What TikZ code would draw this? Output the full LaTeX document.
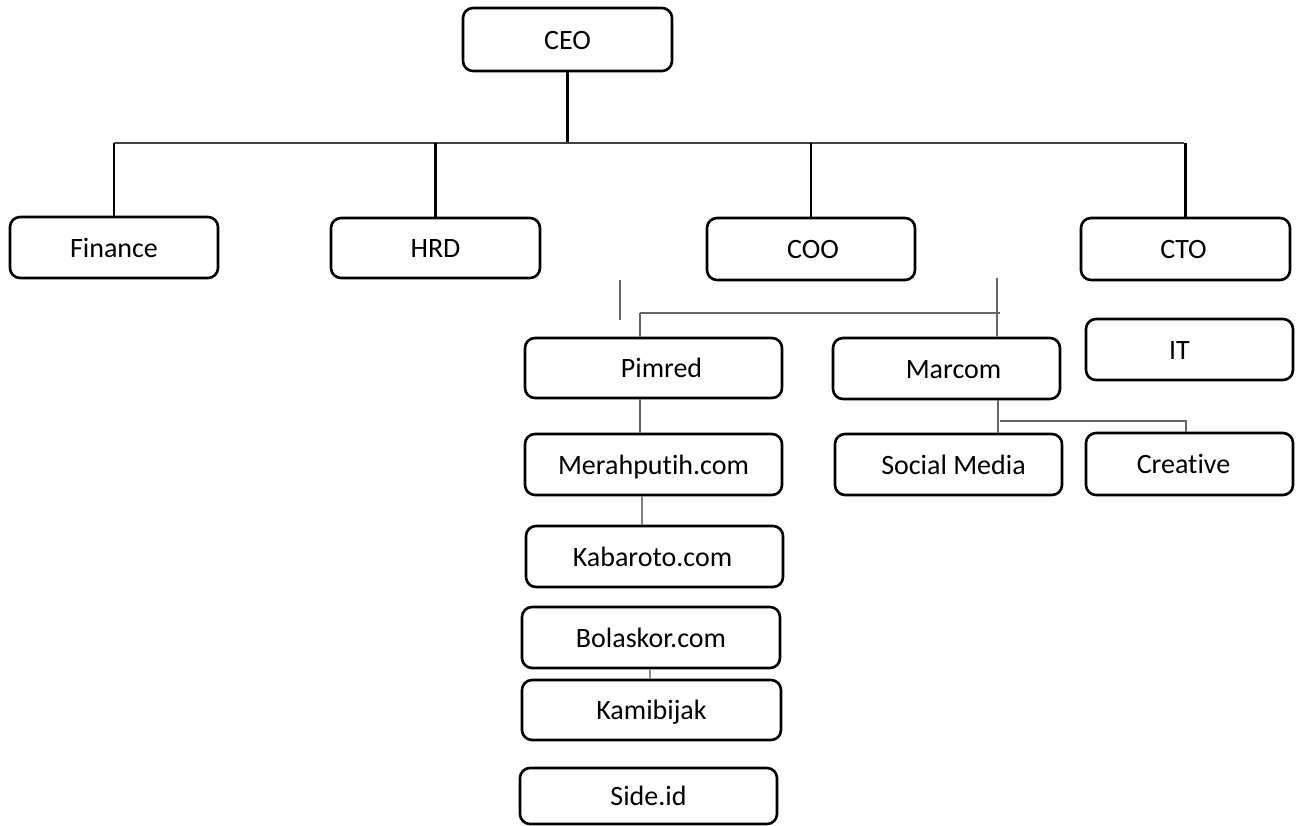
\documentclass[tikz,border=0pt]{standalone}
\usepackage{fontspec}
\setmainfont{Carlito}[Ligatures=NoCommon]
\begin{document}
\begin{tikzpicture}[x=1pt,y=-1pt,
  box/.style={draw=black, line width=2.6pt, rounded corners=10pt, inner sep=0pt,
    font=\fontsize{28}{30}\selectfont, text height=23pt, text depth=4pt},
  thick stem/.style={draw=black, line width=2.8pt},
  topbar/.style={draw=black!75, line width=1.5pt},
  thin link/.style={draw=black!60, line width=1.3pt},
  grey link/.style={draw=black!50, line width=2.6pt},
  grey mid/.style={draw=black!45, line width=2pt}]
\useasboundingbox (0,0) rectangle (1303,825);
\fill[white] (0,0) rectangle (1303,825);
% boxes
\node[box, minimum width=209pt, minimum height=63pt] (ceo) at (567.5,39.5) {CEO};
\node[box, minimum width=208pt, minimum height=61pt] (fin) at (114,247.5) {Finance};
\node[box, minimum width=209pt, minimum height=60pt] (hrd) at (435.5,248) {HRD};
\node[box, minimum width=208pt, minimum height=62pt] (coo) at (811,249) {\hspace*{4pt}COO};
\node[box, minimum width=209pt, minimum height=62pt] (cto) at (1185.5,249) {CTO\hspace*{4pt}};
\node[box, minimum width=257pt, minimum height=60pt] (pim) at (653.5,368) {\hspace*{16pt}Pimred};
\node[box, minimum width=227pt, minimum height=61pt] (mar) at (946.5,368.5) {\hspace*{14pt}Marcom};
\node[box, minimum width=207pt, minimum height=61pt] (it) at (1189.5,349.5) {IT\hspace*{20pt}};
\node[box, minimum width=257pt, minimum height=61pt] (mer) at (653.5,464.5) {Merahputih.com};
\node[box, minimum width=227pt, minimum height=61pt] (soc) at (948.5,464.5) {\hspace*{10pt}Social Media};
\node[box, minimum width=207pt, minimum height=62pt] (cre) at (1189.5,464) {Creative\hspace*{12pt}};
\node[box, minimum width=257pt, minimum height=61pt] (kab) at (654.5,556.5) {Kabaroto.com\hspace*{4pt}};
\node[box, minimum width=258pt, minimum height=61pt] (bol) at (651,637.5) {Bolaskor.com};
\node[box, minimum width=259pt, minimum height=60pt] (kam) at (651.5,710) {Kamibijak};
\node[box, minimum width=257pt, minimum height=56pt] (sid) at (648.5,796) {Side.id};
% top level connectors
\coordinate (barL) at (114,143);
\coordinate (barR) at (1184,143);
\coordinate (ceoJ) at (ceo.south |- barL);
\draw[thick stem] (ceo.south) -- (ceoJ);
\draw[topbar] (barL) -- (barR);
\draw[thick stem] (fin.north |- barL) -- (fin.north);
\draw[thick stem] (hrd.north |- barL) -- (hrd.north);
\draw[thick stem] (coo.north |- barL) -- (coo.north);
\draw[thick stem] (cto.north |- barL) -- (cto.north);
% COO sub-level
\coordinate (shortA) at (620,280);
\coordinate (shortB) at (620,320);
\draw[thin link] (shortA) -- (shortB);
\coordinate (pimJ) at (640,313);
\coordinate (marJ) at (997,313);
\coordinate (marTop) at (997,278);
\draw[thin link] (pimJ) -- (1000,313);
\draw[thin link] (pimJ) -- (pimJ |- pim.north);
\draw[thin link] (marTop) -- (marTop |- mar.north);
% Pimred column
\draw[thin link] (pimJ |- pim.south) -- (pimJ |- mer.north);
\coordinate (merX) at (642,0);
\draw[grey link] (merX |- mer.south) -- (merX |- kab.north);
\coordinate (bolX) at (650,0);
\draw[grey mid] (bolX |- bol.south) -- (bolX |- kam.north);
% Marcom branch
\coordinate (socX) at (998,0);
\draw[thin link] (socX |- mar.south) -- (socX |- soc.north);
\coordinate (creJ) at (1186,421);
\draw[thin link] (1000,421) -- (creJ) -- (creJ |- cre.north);
\end{tikzpicture}
\end{document}
